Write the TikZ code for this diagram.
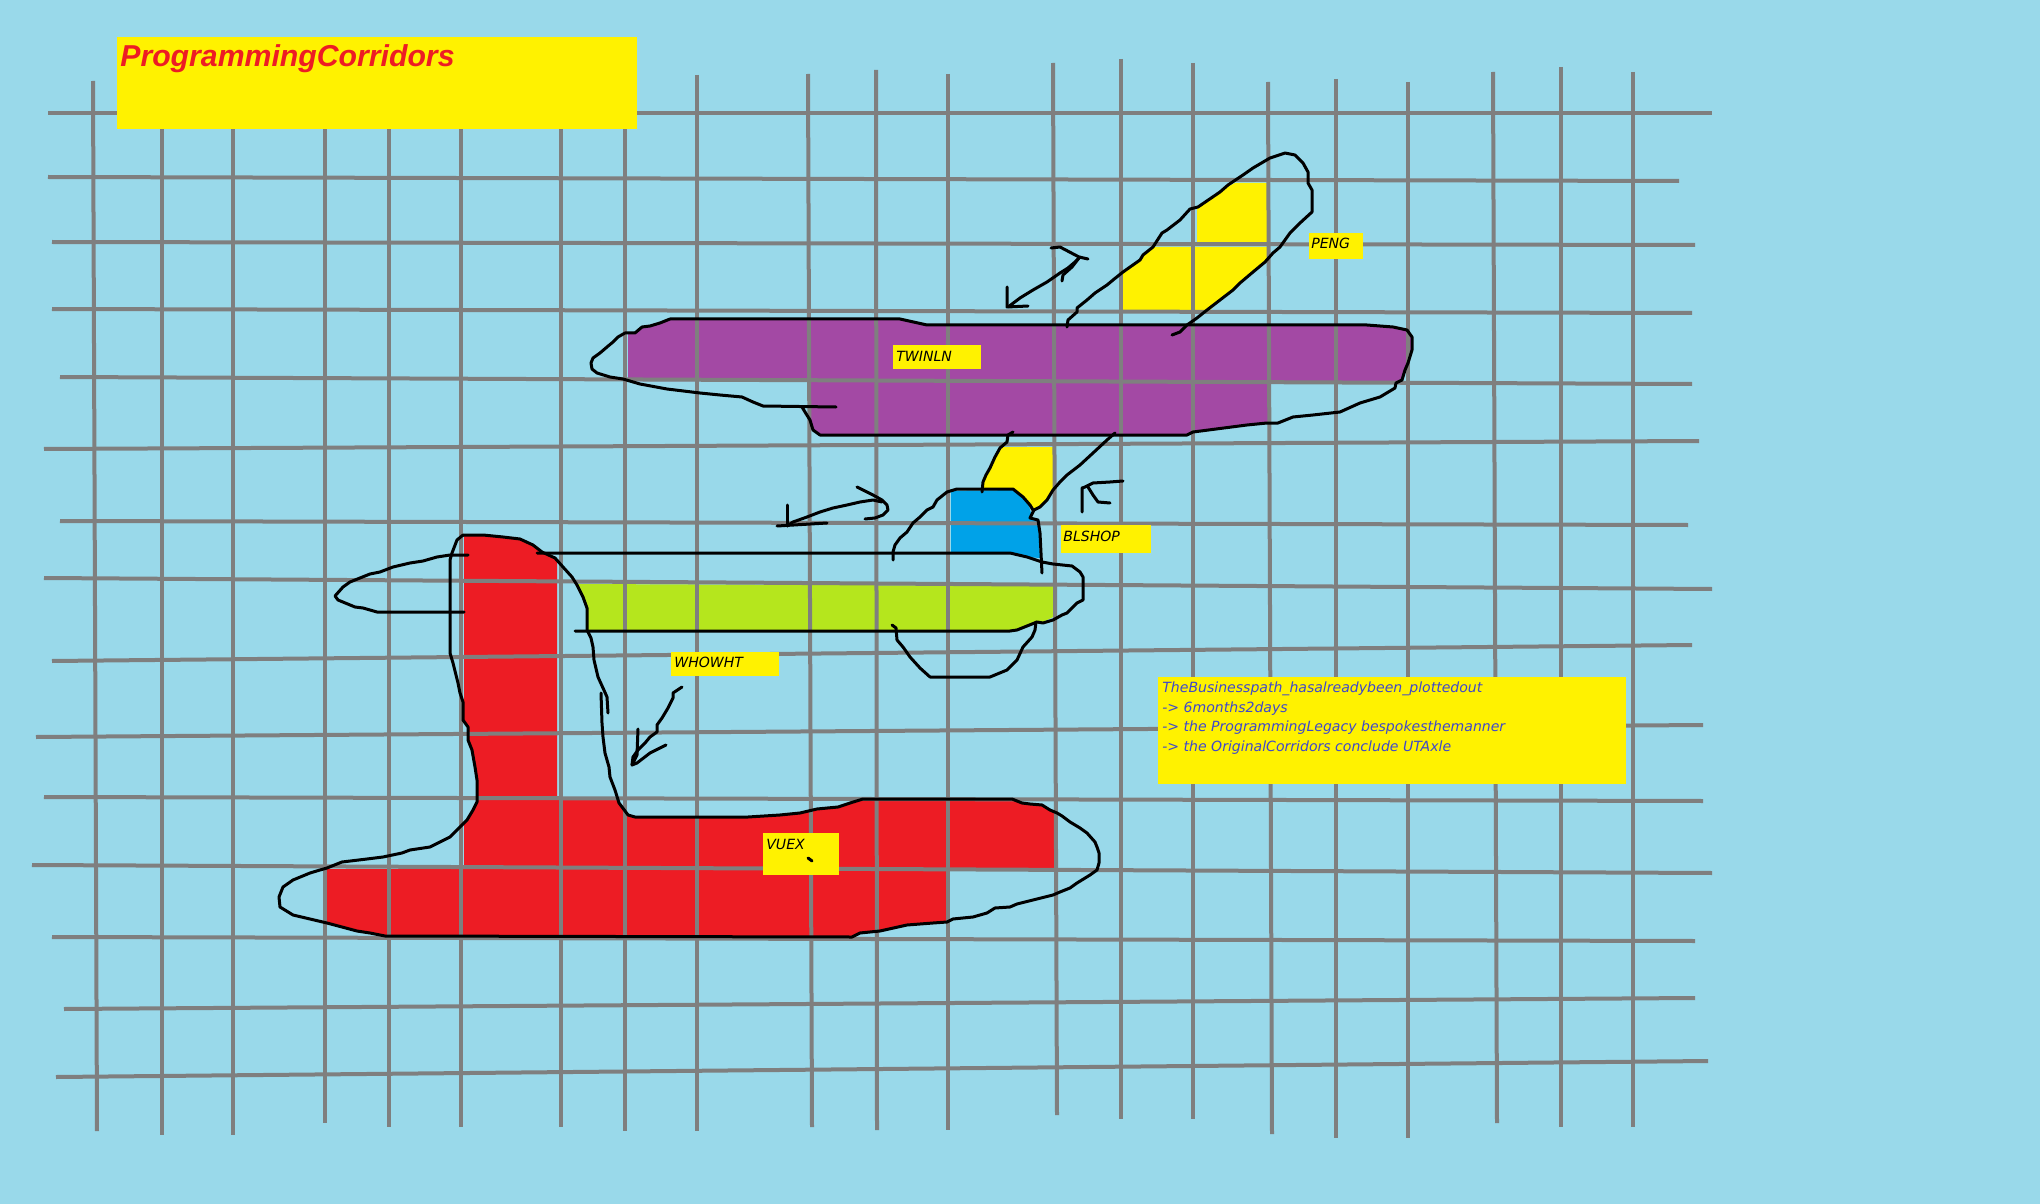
\documentclass[tikz,border=0pt]{standalone}
\usepackage{fontspec}
\setmainfont{DejaVu Sans}[ItalicFont={DejaVu Sans Oblique},BoldFont={DejaVu Sans Bold}]
\newfontfamily\headfont{Liberation Sans}
\usepackage{tikz}
\definecolor{paintsky}{RGB}{153,217,234}
\definecolor{gridgray}{RGB}{127,127,127}
\definecolor{paintyellow}{RGB}{255,242,0}
\definecolor{paintred}{RGB}{237,28,36}
\definecolor{paintpurple}{RGB}{163,73,164}
\definecolor{paintlime}{RGB}{181,230,29}
\definecolor{paintblue}{RGB}{0,162,232}
\definecolor{paintindigo}{RGB}{63,72,204}

\begin{document}
\begin{tikzpicture}[x=0.2mm,y=-0.2mm,
  gridline/.style={gridgray,line width=0.8mm},
  pen/.style={black,line width=0.6mm,line join=round,line cap=round},
  tag/.style={anchor=base west,inner sep=0pt,font=\fontsize{8}{10}\selectfont\itshape},
  note/.style={tag,text=paintindigo}]
  \useasboundingbox (0,0) rectangle (2040,1204);
  \fill[paintsky] (0,0) rectangle (2040,1204);

  % TWINLN corridor
  \fill[paintpurple] (628,334) -- (635,333) -- (642,327) -- (650,326) -- (660,323) -- (670,319)
    -- (900,319) -- (927,325) -- (1367,325) -- (1393,327) -- (1407,330) -- (1412,337)
    -- (1412,350) -- (1408,363) -- (1405,370) -- (1402,381) -- (1268,381) -- (1268,423)
    -- (1247,425) -- (1193,432) -- (1187,435) -- (820,435) -- (813,430) -- (810,420)
    -- (810,381) -- (628,381) -- cycle;
  % PENG cells
  \fill[paintyellow] (1197,209) -- (1213,197) -- (1227,187) -- (1235,183) -- (1267,183)
    -- (1267,243) -- (1197,243) -- cycle;
  \fill[paintyellow] (1123,310) -- (1123,272) -- (1140,260) -- (1143,255) -- (1153,247)
    -- (1267,247) -- (1267,262) -- (1253,272) -- (1240,283) -- (1233,290) -- (1220,300)
    -- (1210,310) -- cycle;
  % BLSHOP cells
  \fill[paintyellow] (1002,447) -- (1053,447) -- (1053,490) -- (1047,500) -- (1040,507)
    -- (1033,512) -- (1030,507) -- (1025,500) -- (1015,490) -- (982,490) -- (983,478)
    -- (987,473) -- (990,467) -- (995,457) -- cycle;
  \fill[paintblue] (951,491) -- (1013,490) -- (1023,497) -- (1029,506) -- (1032,517)
    -- (1038,523) -- (1039,533) -- (1040,558) -- (1027,557) -- (1012,553) -- (951,553) -- cycle;
  % WHOWHT corridor
  \fill[paintlime] (577,584) -- (1053,586) -- (1053,617) -- (1043,622) -- (1027,626)
    -- (1013,630) -- (587,630) -- (587,610) -- (583,597) -- cycle;
  % VUEX corridor
  \fill[paintred] (464,536) -- (483,535) -- (503,537) -- (520,539) -- (533,545) -- (542,552)
    -- (552,556) -- (557,560) -- (557,800) -- (618,800) -- (620,805) -- (628,815) -- (635,817)
    -- (748,817) -- (780,815) -- (800,813) -- (817,809) -- (838,807) -- (850,803) -- (863,799)
    -- (1012,799) -- (1022,803) -- (1030,804) -- (1042,805) -- (1050,810) -- (1054,813)
    -- (1054,868) -- (946,868) -- (946,922) -- (933,923) -- (907,925) -- (880,931) -- (860,933)
    -- (852,937) -- (385,936) -- (370,933) -- (357,931) -- (327,923) -- (327,869) -- (464,869)
    -- (464,823) -- (467,820) -- (473,810) -- (477,802) -- (477,780) -- (475,767) -- (472,750)
    -- (469,740) -- (469,728) -- (464,723) -- cycle;

  % Grid
  \foreach \xa/\ya/\xb/\yb in {93/81/97/1131, 162/120/162/1135, 233/120/233/1135,
      325/120/325/1123, 389/120/389/1127, 461/120/461/1127, 561/120/561/1127,
      625/120/625/1131, 697/75/697/1131, 808/74/812/1127, 876/70/877/1130,
      948/74/948/1130, 1053/63/1057/1115, 1121/59/1121/1119, 1193/63/1193/1119,
      1268/82/1272/1134, 1336/79/1336/1138, 1408/82/1408/1138, 1493/72/1497/1123,
      1561/67/1561/1127, 1633/72/1633/1127}
    \draw[gridline] (\xa,\ya) -- (\xb,\yb);
  \foreach \xa/\ya/\xb/\yb in {48/113/1712/113, 48/177/1679/181, 52/242/1695/245,
      52/309/1692/313, 60/377/1692/384, 44/449/1699/441, 60/521/1688/525,
      44/578/1712/589, 52/661/1692/645, 36/737/1703/725, 44/797/1703/801,
      32/865/1712/873, 52/937/1695/941, 64/1009/1695/998, 56/1077/1708/1061}
    \draw[gridline] (\xa,\ya) -- (\xb,\yb);

  % TWINLN outline
  \draw[pen] (836,407) -- (763,406) -- (753,402) -- (742,397) -- (720,395) -- (700,393)
    -- (667,389) -- (640,384) -- (623,379) -- (610,377) -- (597,373) -- (592,369) -- (591,363)
    -- (593,358) -- (600,353) -- (607,347) -- (613,342) -- (618,337) -- (625,333) -- (635,333)
    -- (642,327) -- (650,326) -- (660,323) -- (670,319) -- (900,319) -- (927,325) -- (1367,325)
    -- (1393,327) -- (1407,330) -- (1412,337) -- (1412,350) -- (1408,363) -- (1405,370)
    -- (1402,380) -- (1396,383) -- (1395,388) -- (1380,397) -- (1360,403) -- (1340,412)
    -- (1313,415) -- (1293,417) -- (1278,423) -- (1267,423) -- (1247,425) -- (1193,432)
    -- (1187,435) -- (820,435) -- (813,430) -- (810,420) -- (805,412) -- (802,407);
  % PENG outline
  \draw[pen] (1067,327) -- (1068,320) -- (1077,312) -- (1077,308) -- (1087,300) -- (1095,293)
    -- (1107,285) -- (1113,280) -- (1123,272) -- (1140,260) -- (1143,255) -- (1153,247)
    -- (1162,233) -- (1167,230) -- (1180,220) -- (1190,209) -- (1198,207) -- (1220,192)
    -- (1228,185) -- (1243,175) -- (1253,168) -- (1270,158) -- (1285,153) -- (1295,155)
    -- (1303,163) -- (1308,172) -- (1308,183) -- (1312,190) -- (1312,212) -- (1300,223)
    -- (1290,233) -- (1280,247) -- (1273,253) -- (1265,262) -- (1253,272) -- (1240,283)
    -- (1233,290) -- (1220,300) -- (1207,310) -- (1197,318) -- (1187,325) -- (1180,332)
    -- (1172,335);
  % PENG arrow
  \draw[pen] (1007,287) -- (1007,307) -- (1028,306);
  \draw[pen] (1008,307) -- (1020,298) -- (1033,290) -- (1047,282) -- (1060,273) -- (1068,268)
    -- (1075,262) -- (1080,257);
  \draw[pen] (1051,248) -- (1060,247) -- (1079,257) -- (1088,259);
  \draw[pen] (1079,258) -- (1072,267) -- (1063,275) -- (1062,281);

  % BLSHOP outline
  \draw[pen] (1013,432) -- (1008,435) -- (1007,442) -- (1000,448) -- (995,457) -- (990,468)
    -- (986,475) -- (983,482) -- (982,492);
  \draw[pen] (1033,510) -- (1030,505) -- (1023,497) -- (1013,489) -- (957,489) -- (947,492)
    -- (937,500) -- (933,507) -- (927,510) -- (920,517) -- (913,523) -- (907,532) -- (900,538)
    -- (895,545) -- (893,552) -- (893,560);
  \draw[pen] (1115,433) -- (1107,440) -- (1093,453) -- (1080,465) -- (1067,475) -- (1060,482)
    -- (1053,490) -- (1047,500) -- (1040,507) -- (1034,510) -- (1030,518) -- (1038,520)
    -- (1040,533) -- (1042,573);
  % BLSHOP arrows
  \draw[pen] (787,505) -- (787,526);
  \draw[pen] (777,526) -- (827,523);
  \draw[pen] (787,526) -- (793,522) -- (807,517) -- (820,512) -- (833,508) -- (847,505)
    -- (860,502) -- (873,500) -- (882,502);
  \draw[pen] (857,487) -- (863,490) -- (873,495) -- (882,500) -- (887,505) -- (888,510)
    -- (883,515) -- (875,518) -- (865,519);
  \draw[pen] (1082,512) -- (1082,488) -- (1085,487) -- (1093,483) -- (1110,482) -- (1123,481);
  \draw[pen] (1088,487) -- (1093,495) -- (1098,502) -- (1110,503);

  % WHOWHT outline
  \draw[pen] (537,553) -- (1010,553) -- (1027,557) -- (1042,562) -- (1053,564) -- (1072,566)
    -- (1080,572) -- (1083,577) -- (1083,600) -- (1077,603) -- (1067,613) -- (1062,615)
    -- (1053,620) -- (1043,623) -- (1037,622) -- (1027,626) -- (1017,630) -- (1010,631)
    -- (575,631);
  \draw[pen] (892,625) -- (896,628) -- (897,640) -- (903,647) -- (910,657) -- (920,668)
    -- (930,677) -- (990,677) -- (1007,670) -- (1017,660) -- (1023,647) -- (1032,637)
    -- (1035,630) -- (1036,622);

  % VUEX outline
  \draw[pen] (463,535) -- (457,540) -- (452,553) -- (450,560) -- (450,653) -- (453,663)
    -- (458,683) -- (460,693) -- (463,702) -- (463,720) -- (468,727) -- (468,740) -- (472,750)
    -- (475,767) -- (477,780) -- (477,802) -- (473,810) -- (467,820) -- (457,830) -- (450,837)
    -- (440,842) -- (430,847) -- (410,850) -- (402,853) -- (383,857) -- (367,859) -- (342,862)
    -- (327,868) -- (320,870) -- (310,873) -- (293,880) -- (283,887) -- (279,897) -- (280,907)
    -- (293,915) -- (327,923) -- (357,931) -- (370,933) -- (385,936) -- (852,937) -- (860,933)
    -- (880,931) -- (907,925) -- (933,923) -- (947,922) -- (953,919) -- (973,917) -- (987,913)
    -- (995,908) -- (1010,907) -- (1017,904) -- (1033,900) -- (1053,895) -- (1060,892)
    -- (1070,888) -- (1077,883) -- (1090,875) -- (1097,870) -- (1099,863) -- (1099,853)
    -- (1097,847) -- (1095,842) -- (1087,833) -- (1080,828) -- (1070,822) -- (1062,816)
    -- (1057,813) -- (1050,810) -- (1042,805) -- (1030,804) -- (1022,803) -- (1012,799)
    -- (863,799) -- (850,803) -- (838,807) -- (817,809) -- (800,813) -- (780,815) -- (748,817)
    -- (635,817) -- (628,815) -- (619,803) -- (615,790) -- (610,777) -- (609,767) -- (605,753)
    -- (603,737) -- (602,723) -- (601,693);
  \draw[pen] (463,535) -- (483,535) -- (503,537) -- (520,539) -- (533,545) -- (542,552)
    -- (555,558) -- (563,567) -- (572,577) -- (577,585) -- (583,597) -- (587,608) -- (587,630)
    -- (591,638) -- (593,647) -- (594,660) -- (598,677) -- (603,688) -- (607,697) -- (608,713);
  \draw[pen] (468,555) -- (450,555) -- (437,557) -- (423,561) -- (410,563) -- (393,567)
    -- (380,572) -- (370,574) -- (360,578) -- (350,582) -- (343,587) -- (335,596) -- (338,600)
    -- (355,607) -- (363,608) -- (377,612) -- (464,612);
  % WHOWHT arrow
  \draw[pen] (682,687) -- (673,693) -- (673,698) -- (668,708) -- (662,718) -- (657,725)
    -- (657,732) -- (650,737) -- (645,743) -- (638,750) -- (633,757) -- (632,765);
  \draw[pen] (638,729) -- (637,755) -- (632,765) -- (637,763) -- (650,753) -- (666,745);

  % Title
  \fill[paintyellow] (117,37) rectangle (637,129);
  \node[anchor=base west,inner sep=0pt,text=paintred,
    font=\fontsize{17.2}{20}\selectfont\headfont\bfseries\itshape]
    (title) at (120,67) {ProgrammingCorridors};

  % Labels
  \fill[paintyellow] (1309,233) rectangle (1363,259);
  \node[tag] (peng) at (1311,249) {PENG};
  \fill[paintyellow] (893,345) rectangle (981,369);
  \node[tag] (twinln) at (896,361) {TWINLN};
  \fill[paintyellow] (1061,525) rectangle (1151,553);
  \node[tag] (blshop) at (1063,541) {BLSHOP};
  \fill[paintyellow] (671,652) rectangle (779,676);
  \node[tag] (whowht) at (674,667) {WHOWHT};
  \fill[paintyellow] (763,833) rectangle (839,875);
  \node[tag] (vuex) at (766,849) {VUEX};
  \draw[pen] (808,858) -- (812,861);

  % Notes
  \fill[paintyellow] (1158,677) rectangle (1626,784);
  \node[note] (note1) at (1162,692) {TheBusinesspath\_hasalreadybeen\_plottedout};
  \node[note] (note2) at (1162,712) {-> 6months2days};
  \node[note] (note3) at (1162,731) {-> the ProgrammingLegacy bespokesthemanner};
  \node[note] (note4) at (1162,751) {-> the OriginalCorridors conclude UTAxle};
\end{tikzpicture}
\end{document}
